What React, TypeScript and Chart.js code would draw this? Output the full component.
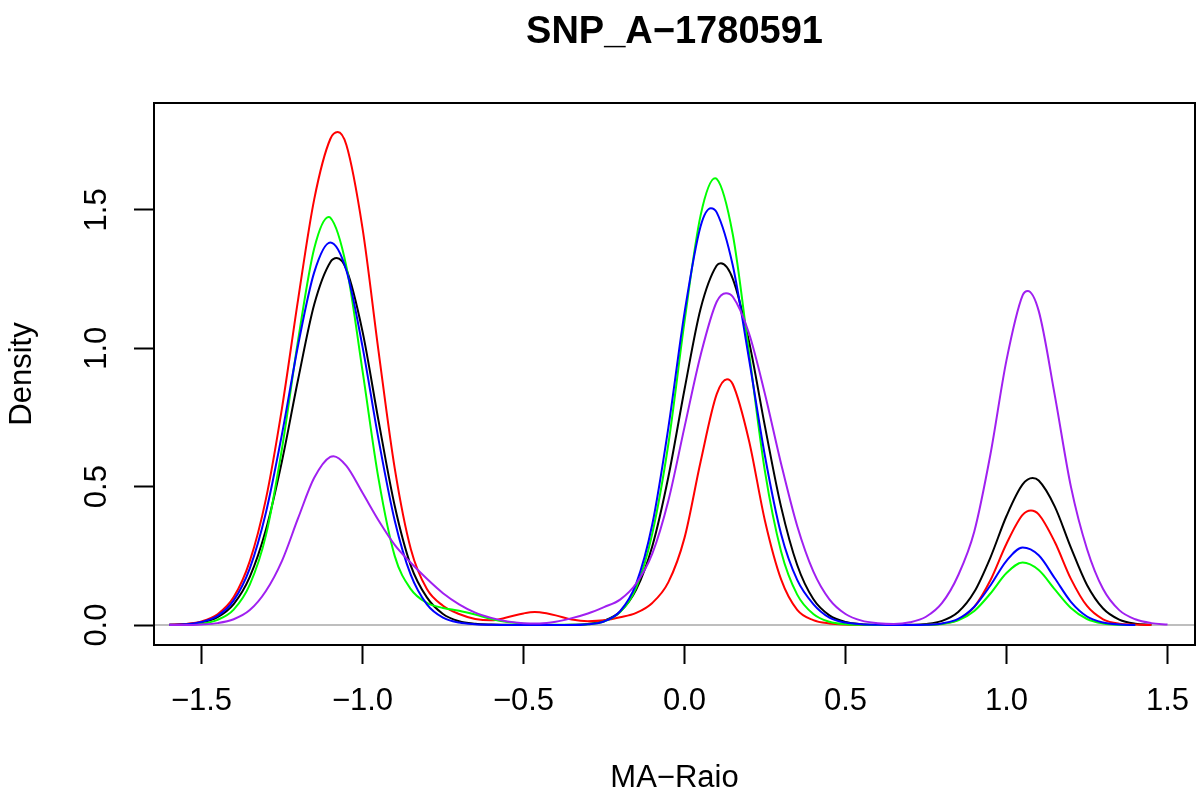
import React, { useEffect, useRef } from "react";
import { Chart, registerables } from "chart.js";

Chart.register(...registerables);

// ---- data ----
const titleText = "SNP_A\u22121780591";
const xTitle = "MA\u2212Raio";
const yTitle = "Density";

const xTicks = [-1.5, -1.0, -0.5, 0.0, 0.5, 1.0, 1.5];
const yTicks = [0.0, 0.5, 1.0, 1.5];

const xs = [
  -1.6, -1.55, -1.5, -1.45, -1.4, -1.35, -1.3, -1.25, -1.2, -1.15,
  -1.1, -1.05, -1.0, -0.95, -0.9, -0.85, -0.8, -0.75, -0.7, -0.65,
  -0.6, -0.55, -0.5, -0.45, -0.4, -0.35, -0.3, -0.25, -0.2, -0.15,
  -0.1, -0.05, 0.0, 0.05, 0.1, 0.15, 0.2, 0.25, 0.3, 0.35,
  0.4, 0.45, 0.5, 0.55, 0.6, 0.65, 0.7, 0.75, 0.8, 0.85,
  0.9, 0.95, 1.0, 1.05, 1.1, 1.15, 1.2, 1.25, 1.3, 1.35,
  1.4, 1.45, 1.5, 1.55,
];

const blackDensity = [
  0.001, 0.003, 0.010, 0.029, 0.076, 0.174, 0.344, 0.593, 0.887, 1.158,
  1.311, 1.285, 1.061, 0.737, 0.431, 0.215, 0.100, 0.040, 0.014, 0.005,
  0.002, 0.001, 0.000, 0.000, 0.000, 0.001, 0.004, 0.016, 0.048, 0.128,
  0.285, 0.536, 0.851, 1.143, 1.299, 1.251, 1.026, 0.717, 0.427, 0.217,
  0.094, 0.035, 0.011, 0.003, 0.001, 0.000, 0.001, 0.004, 0.015, 0.047,
  0.120, 0.244, 0.394, 0.508, 0.522, 0.428, 0.280, 0.145, 0.060, 0.020,
  0.005, 0.001, null, null,
];
const blackPeakX = [-1.080, 0.113, 1.081];
const blackPeakY = [1.326, 1.307, 0.531];

const redDensity = [
  0.001, 0.004, 0.013, 0.039, 0.101, 0.231, 0.455, 0.784, 1.176, 1.538,
  1.756, 1.734, 1.434, 0.988, 0.567, 0.275, 0.130, 0.070, 0.040, 0.022,
  0.017, 0.028, 0.042, 0.046, 0.035, 0.020, 0.014, 0.017, 0.028, 0.044,
  0.080, 0.155, 0.315, 0.590, 0.834, 0.870, 0.668, 0.376, 0.165, 0.055,
  0.018, 0.006, 0.002, 0.001, 0.000, 0.000, 0.000, 0.001, 0.005, 0.020,
  0.066, 0.162, 0.294, 0.398, 0.400, 0.300, 0.167, 0.069, 0.021, 0.005,
  0.002, 0.000, null, null,
];
const redPeakX = [-1.077, -0.465, 0.132, 1.076];
const redPeakY = [1.781, 0.047, 0.888, 0.414];

const greenDensity = [
  0.000, 0.001, 0.005, 0.019, 0.056, 0.146, 0.324, 0.638, 1.029, 1.360,
  1.472, 1.295, 0.919, 0.527, 0.250, 0.130, 0.080, 0.062, 0.052, 0.038,
  0.022, 0.011, 0.005, 0.002, 0.001, 0.001, 0.003, 0.013, 0.047, 0.135,
  0.331, 0.655, 1.096, 1.480, 1.612, 1.411, 0.988, 0.554, 0.266, 0.110,
  0.040, 0.012, 0.003, 0.001, 0.000, 0.000, 0.000, 0.001, 0.004, 0.017,
  0.051, 0.114, 0.188, 0.226, 0.199, 0.129, 0.062, 0.022, 0.006, 0.001,
  0.000, null, null, null,
];
const greenPeakX = [-1.105, 0.095];
const greenPeakY = [1.474, 1.614];

const blueDensity = [
  0.001, 0.003, 0.011, 0.033, 0.089, 0.205, 0.406, 0.690, 1.011, 1.274,
  1.382, 1.281, 1.006, 0.670, 0.378, 0.181, 0.075, 0.027, 0.009, 0.003,
  0.001, 0.000, 0.000, 0.000, 0.000, 0.000, 0.003, 0.013, 0.050, 0.150,
  0.364, 0.714, 1.128, 1.441, 1.491, 1.299, 0.964, 0.610, 0.329, 0.163,
  0.076, 0.027, 0.009, 0.003, 0.001, 0.000, 0.000, 0.001, 0.006, 0.022,
  0.066, 0.143, 0.232, 0.280, 0.252, 0.169, 0.084, 0.031, 0.009, 0.002,
  0.000, null, null, null,
];
const bluePeakX = [0.082];
const bluePeakY = [1.506];

const purpleDensity = [
  0.000, 0.000, 0.002, 0.007, 0.021, 0.054, 0.123, 0.232, 0.386, 0.532,
  0.608, 0.575, 0.478, 0.378, 0.290, 0.225, 0.167, 0.115, 0.075, 0.045,
  0.026, 0.013, 0.007, 0.006, 0.012, 0.025, 0.042, 0.065, 0.092, 0.150,
  0.258, 0.450, 0.715, 0.975, 1.168, 1.186, 1.055, 0.834, 0.583, 0.358,
  0.194, 0.093, 0.040, 0.016, 0.007, 0.004, 0.010, 0.030, 0.080, 0.180,
  0.338, 0.616, 0.957, 1.191, 1.135, 0.830, 0.500, 0.275, 0.130, 0.054,
  0.021, 0.007, 0.002, null,
];
const purplePeakX = [-1.090, 0.129, 1.066];
const purplePeakY = [0.610, 1.199, 1.207];

const seriesList = [
  { name: "black", color: "#000000", values: blackDensity, px: blackPeakX, py: blackPeakY, order: 5 },
  { name: "red", color: "#FF0000", values: redDensity, px: redPeakX, py: redPeakY, order: 4 },
  { name: "green", color: "#00FF00", values: greenDensity, px: greenPeakX, py: greenPeakY, order: 3 },
  { name: "blue", color: "#0000FF", values: blueDensity, px: bluePeakX, py: bluePeakY, order: 2 },
  { name: "purple", color: "#A020F0", values: purpleDensity, px: purplePeakX, py: purplePeakY, order: 1 },
];

// ---- styling / layout constants ----
const FONT = '"Liberation Sans", Arial, Helvetica, sans-serif';
const W = 1198;
const H = 798;

const fmt = (v: number) =>
  (v < 0 ? "\u2212" : "") + Math.abs(v).toFixed(1);

const decorPlugin = {
  id: "rDecor",
  beforeDatasetsDraw(chart: any) {
    const { ctx, chartArea } = chart;
    const y = chart.scales.y;
    const py = y.getPixelForValue(0);
    ctx.save();
    ctx.beginPath();
    ctx.strokeStyle = "#BEBEBE";
    ctx.lineWidth = 2;
    ctx.moveTo(chartArea.left, py);
    ctx.lineTo(chartArea.right, py);
    ctx.stroke();
    ctx.restore();
  },
  afterDraw(chart: any) {
    const { ctx, chartArea } = chart;
    ctx.save();
    ctx.strokeStyle = "#000";
    ctx.lineWidth = 2;
    ctx.strokeRect(
      chartArea.left,
      chartArea.top,
      chartArea.right - chartArea.left,
      chartArea.bottom - chartArea.top
    );
    ctx.fillStyle = "#000";
    ctx.font = `bold 38px ${FONT}`;
    ctx.textAlign = "center";
    ctx.textBaseline = "middle";
    ctx.fillText(titleText, (chartArea.left + chartArea.right) / 2, 33);
    const ys = chart.scales.y;
    ctx.font = `31px ${FONT}`;
    for (const t of ys.ticks) {
      const p = ys.getPixelForValue(t.value);
      ctx.save();
      ctx.translate(97, p);
      ctx.rotate(-Math.PI / 2);
      ctx.textAlign = "center";
      ctx.textBaseline = "middle";
      ctx.fillText(fmt(t.value), 0, 0);
      ctx.restore();
    }
    ctx.restore();
  },
};

export default function App() {
  const ref = useRef<HTMLCanvasElement | null>(null);

  useEffect(() => {
    if (!ref.current) return;
    const datasets = seriesList.map((s) => {
      const pts = xs
        .map((x, i) => ({ x, y: s.values[i] as number | null }))
        .concat(s.px.map((x, i) => ({ x, y: s.py[i] })))
        .filter((p) => p.y !== null)
        .sort((a, b) => a.x - b.x);
      return {
        label: s.name,
        data: pts,
        borderColor: s.color,
        backgroundColor: s.color,
        borderWidth: 2,
        pointRadius: 0,
        pointHoverRadius: 0,
        cubicInterpolationMode: "monotone" as const,
        fill: false,
        order: s.order,
      };
    });

    const chart = new Chart(ref.current, {
      type: "line",
      data: { datasets },
      options: {
        animation: false,
        responsive: false,
        devicePixelRatio: 1,
        layout: { padding: { top: 103, right: 3, bottom: 0, left: 0 } },
        plugins: {
          legend: { display: false },
          tooltip: { enabled: false },
          title: { display: false },
        },
        scales: {
          x: {
            type: "linear",
            min: -1.6475,
            max: 1.5854,
            afterBuildTicks: (s: any) => {
              s.ticks = xTicks.map((v) => ({ value: v }));
            },
            afterFit: (s: any) => {
              s.height = H - 645;
              s.paddingLeft = 0;
              s.paddingRight = 0;
            },
            grid: {
              display: true,
              drawOnChartArea: false,
              drawTicks: true,
              tickLength: 19,
              tickColor: "#000",
              tickWidth: 2,
            },
            border: { display: false },
            ticks: {
              autoSkip: false,
              maxRotation: 0,
              minRotation: 0,
              padding: 19,
              color: "#000",
              font: { family: FONT, size: 31 },
              callback: (v: any) => fmt(Number(v)),
            },
            title: {
              display: true,
              text: xTitle,
              color: "#000",
              font: { family: FONT, size: 31 },
              padding: { top: 0, bottom: 1 },
            },
          },
          y: {
            type: "linear",
            min: -0.072,
            max: 1.886,
            afterBuildTicks: (s: any) => {
              s.ticks = yTicks.map((v) => ({ value: v }));
            },
            afterFit: (s: any) => {
              s.width = 154;
              s.paddingTop = 0;
              s.paddingBottom = 0;
            },
            grid: {
              display: true,
              drawOnChartArea: false,
              drawTicks: true,
              tickLength: 20,
              tickColor: "#000",
              tickWidth: 2,
            },
            border: { display: false },
            ticks: { display: false },
            title: {
              display: true,
              text: yTitle,
              color: "#000",
              font: { family: FONT, size: 31 },
              padding: { top: 4, bottom: 0 },
            },
          },
        },
      },
      plugins: [decorPlugin],
    });
    return () => chart.destroy();
  }, []);

  return (
    <div
      style={{
        position: "fixed",
        left: 0,
        top: 0,
        width: W,
        height: H,
        background: "#fff",
      }}
    >
      <canvas ref={ref} width={W} height={H} style={{ display: "block" }} />
    </div>
  );
}
